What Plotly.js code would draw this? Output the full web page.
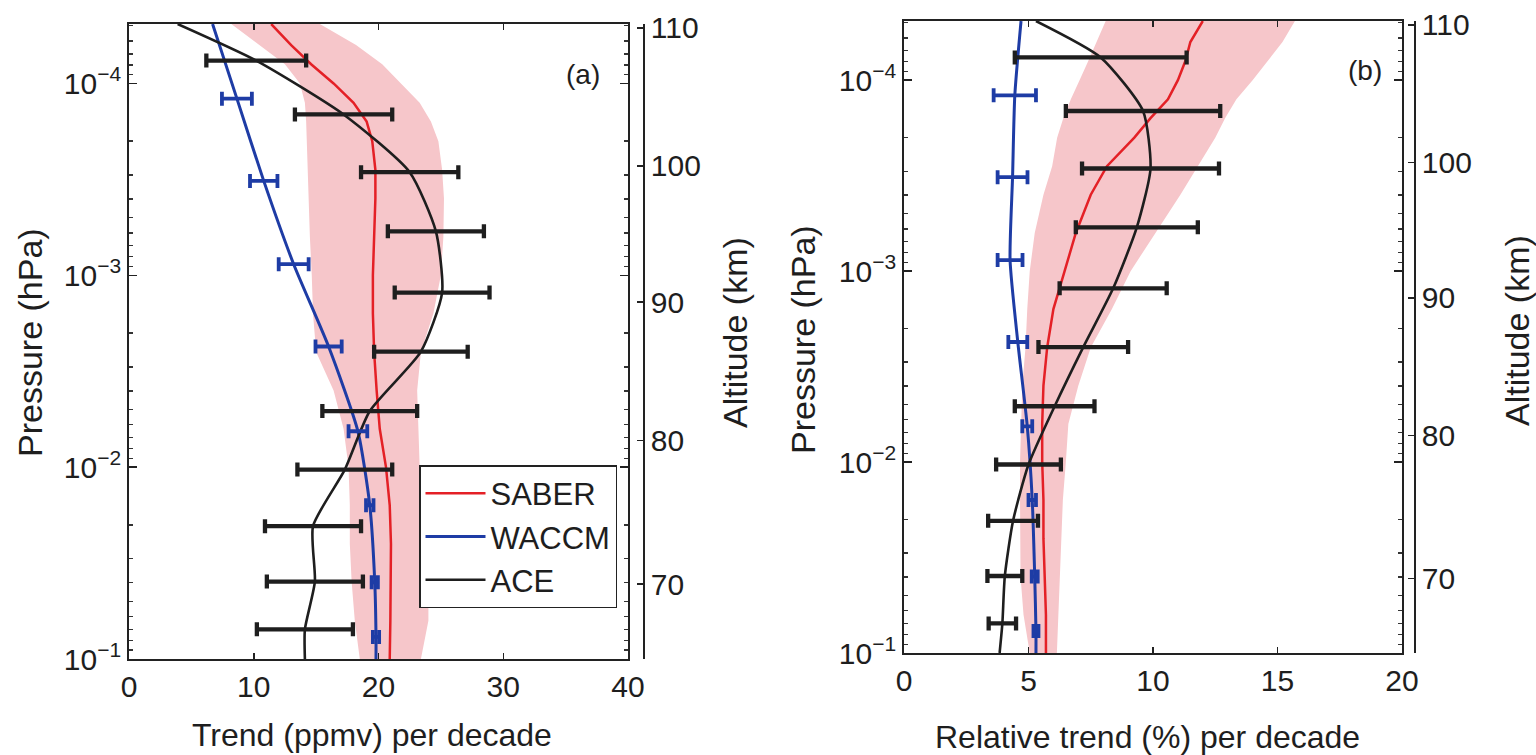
<!DOCTYPE html>
<html><head><meta charset="utf-8">
<script src="https://cdn.plot.ly/plotly-3.0.1.min.js"></script>
<style>html,body{margin:0;padding:0;background:#fff}#chart{width:1536px;height:755px}</style>
</head><body><div id="chart"></div>
<script>
// ---------- data (pressure in hPa) ----------
const pTop = 4.9e-5, pBot = 0.1;
const saberP = [4.9e-5,6.31e-5,7.94e-5,1.0e-4,1.26e-4,1.58e-4,2.0e-4,2.82e-4,3.98e-4,6.31e-4,1.0e-3,1.58e-3,2.51e-3,3.98e-3,6.31e-3,1.0e-2,1.58e-2,2.51e-2,3.98e-2,6.31e-2,0.1];
// panel (a): trend ppmv/decade
const saberA   = [11.4,13.0,14.6,16.4,18.0,19.05,19.5,19.75,19.75,19.65,19.55,19.55,19.65,19.85,20.1,20.6,20.9,21.0,21.0,20.95,20.9];
const saberALo = [8.2,10.5,12.5,13.7,14.1,14.2,14.25,14.35,14.45,14.5,14.65,14.75,15.0,16.4,17.2,17.6,17.7,17.7,17.85,18.1,18.5];
const saberAHi = [15.3,18.2,20.3,21.8,23.3,24.2,24.8,25.1,25.25,25.2,25.0,24.4,23.4,23.1,23.2,23.3,23.4,23.7,24.0,24.0,23.4];
// panel (b): relative trend %/decade
const saberB   = [12.0,11.5,11.3,11.0,10.6,9.9,9.25,8.15,7.5,6.9,6.45,6.0,5.75,5.6,5.55,5.55,5.6,5.6,5.65,5.7,5.7];
const saberBLo = [8.1,7.75,7.4,7.05,6.7,6.4,6.15,5.95,5.6,5.25,5.05,4.95,4.88,4.75,4.7,4.66,4.66,4.66,4.68,4.8,5.05];
const saberBHi = [15.7,15.2,14.6,14.0,13.35,12.9,12.5,11.8,11.1,10.1,9.1,8.35,7.5,7.0,6.6,6.5,6.38,6.3,6.24,6.2,6.14];

const aceP    = [7.6e-5,1.45e-4,2.9e-4,5.9e-4,1.23e-3,2.5e-3,5.1e-3,1.03e-2,2.03e-2,3.95e-2,7.0e-2];
const aceA    = [10.2,17.2,22.5,24.6,25.1,23.4,19.3,17.3,14.75,14.9,14.1];
const aceAErr = [4.0,3.9,3.9,3.85,3.8,3.75,3.8,3.8,3.85,3.85,3.85];
const aceATop = 3.9, aceABot = 14.1;
const aceB    = [7.9,9.6,9.9,9.35,8.4,7.2,6.05,5.0,4.38,4.05,3.95];
const aceBErr = [3.45,3.1,2.75,2.45,2.15,1.8,1.6,1.3,1.0,0.7,0.55];
const aceBTop = 5.3, aceBBot = 3.84;

const waccmP    = [1.2e-4,3.22e-4,8.75e-4,2.35e-3,6.5e-3,1.58e-2,3.98e-2,7.67e-2];
const waccmA    = [8.65,10.8,13.2,16.0,18.35,19.3,19.7,19.8];
const waccmAErr = [1.2,1.1,1.2,1.05,0.75,0.3,0.25,0.25];
const waccmATop = 6.7, waccmABot = 19.8;
const waccmB    = [4.45,4.36,4.26,4.57,4.95,5.15,5.25,5.3];
const waccmBErr = [0.85,0.6,0.5,0.38,0.2,0.15,0.12,0.1];
const waccmBTop = 4.7, waccmBBot = 5.3;

const altKm = [110,100,90,80,70];
const altP  = [5.13e-5,2.69e-4,1.38e-3,7.24e-3,4.07e-2];
const pTickVals = [1e-4,1e-3,1e-2,1e-1];
const pTickText = ['10<sup>−4</sup>','10<sup>−3</sup>','10<sup>−2</sup>','10<sup>−1</sup>'];

// ---------- style ----------
const RED='rgb(228,32,38)', BLUE='rgb(30,60,165)', BLACK='rgb(30,30,30)', PINK='rgb(246,198,202)';
const FONT='Liberation Sans, Arial, Helvetica, sans-serif';
const TXT='#1e1e1e';
const W=1536,H=755;
const minorP=[]; for(let e=-5;e<=-2;e++){for(let m=2;m<=9;m++){minorP.push(m*Math.pow(10,e));}}

function band(p, lo, hi, xa, ya){
  return {x: lo.concat(hi.slice().reverse()), y: p.concat(p.slice().reverse()), xaxis:xa, yaxis:ya,
    type:'scatter', mode:'lines', fill:'toself', fillcolor:PINK, line:{width:0}, showlegend:false, hoverinfo:'skip'};
}
function line(p, x, color, w, xa, ya, name, leg, shape){
  return {x:x, y:p, xaxis:xa, yaxis:ya, type:'scatter', mode:'lines', name:name, showlegend:leg,
    line:{color:color, width:w, shape:shape, smoothing:0.6}};
}
function bars(p, x, err, color, thick, capw, xa, ya){
  return {x:x, y:p, xaxis:xa, yaxis:ya, type:'scatter', mode:'markers', showlegend:false,
    marker:{color:'rgba(0,0,0,0)', size:2},
    error_x:{type:'data', array:err, visible:true, color:color, thickness:thick, width:capw}};
}

const traces = [
  band(saberP, saberALo, saberAHi, 'x', 'y'),
  line(saberP, saberA, RED, 2.5, 'x', 'y', 'SABER', true, 'linear'),
  line([pTop].concat(waccmP,[pBot]), [waccmATop].concat(waccmA,[waccmABot]), BLUE, 3, 'x', 'y', 'WACCM', true, 'spline'),
  line([pTop].concat(aceP,[pBot]), [aceATop].concat(aceA,[aceABot]), BLACK, 2.6, 'x', 'y', 'ACE', true, 'spline'),
  bars(waccmP, waccmA, waccmAErr, BLUE, 3.8, 7, 'x', 'y'),
  bars(aceP, aceA, aceAErr, BLACK, 4.3, 7, 'x', 'y'),
  {x:[], y:[], xaxis:'x', yaxis:'y2', type:'scatter', showlegend:false},

  band(saberP, saberBLo, saberBHi, 'x2', 'y3'),
  line(saberP, saberB, RED, 2.5, 'x2', 'y3', 'SABER', false, 'linear'),
  line([pTop].concat(waccmP,[pBot]), [waccmBTop].concat(waccmB,[waccmBBot]), BLUE, 3, 'x2', 'y3', 'WACCM', false, 'spline'),
  line([pTop].concat(aceP,[pBot]), [aceBTop].concat(aceB,[aceBBot]), BLACK, 2.6, 'x2', 'y3', 'ACE', false, 'spline'),
  bars(waccmP, waccmB, waccmBErr, BLUE, 3.8, 7, 'x2', 'y3'),
  bars(aceP, aceB, aceBErr, BLACK, 4.3, 7, 'x2', 'y3'),
  {x:[], y:[], xaxis:'x2', yaxis:'y4', type:'scatter', showlegend:false}
];

const tickfont={family:FONT, size:30, color:TXT};
function xax(dom, anchor, rng, tv){
  return {domain:dom, anchor:anchor, range:rng, tickvals:tv, ticks:'inside', ticklen:6, tickwidth:1.5, tickcolor:'#222',
    showline:true, linecolor:'#222', linewidth:1.8, mirror:'ticks', showgrid:false, zeroline:false, tickfont:tickfont, fixedrange:true};
}
function pax(dom, anchor){
  return {domain:dom, anchor:anchor, type:'log', range:[-1,-4.31], tickvals:pTickVals, ticktext:pTickText,
    ticks:'inside', ticklen:8, tickwidth:1.5, tickcolor:'#222', showline:true, linecolor:'#222', linewidth:1.8, mirror:'ticks',
    showgrid:false, zeroline:false, tickfont:tickfont, fixedrange:true,
    minor:{tickmode:'array', tickvals:minorP, ticks:'inside', ticklen:4, tickcolor:'#333', showgrid:false}};
}
function altax(over, pos){
  return {overlaying:over, side:'right', anchor:'free', position:pos, type:'log', range:[-1,-4.31],
    tickvals:altP, ticktext:altKm.map(String), ticks:'inside', ticklen:6, tickwidth:1.5, tickcolor:'#222',
    showline:true, linecolor:'#222', linewidth:1.8, showgrid:false, zeroline:false, tickfont:tickfont, fixedrange:true};
}
function ann(text, px, py, angle, size){
  return {text:text, xref:'paper', yref:'paper', x:px/W, y:1-py/H, xanchor:'center', yanchor:'middle',
    showarrow:false, textangle:angle||0, font:{family:FONT, size:size||32, color:TXT}};
}

const layout = {
  width:W, height:H, margin:{l:0,r:0,t:0,b:0}, paper_bgcolor:'#fff', plot_bgcolor:'rgba(0,0,0,0)',
  showlegend:true,
  legend:{x:419/W, y:1-465/H, xanchor:'left', yanchor:'top', bgcolor:'#fff', bordercolor:'#222', borderwidth:1.5,
    font:{family:FONT, size:31, color:TXT}, tracegroupgap:0, itemwidth:60},
  xaxis: xax([129/W, 628/W], 'y', [0,40], [0,10,20,30,40]),
  yaxis: pax([1-659/H, 1-24/H], 'x'),
  yaxis2: altax('y', 643/W),
  xaxis2: xax([904/W, 1402/W], 'y3', [0,20], [0,5,10,15,20]),
  yaxis3: pax([1-653/H, 1-21/H], 'x2'),
  yaxis4: altax('y3', 1414/W),
  annotations:[
    ann('(a)', 583, 75, 0, 28),
    ann('(b)', 1365, 70, 0, 28),
    ann('Pressure (hPa)', 30, 343, -90, 34),
    ann('Pressure (hPa)', 803, 340, -90, 34),
    ann('Altitude (km)', 735, 333, -90, 34),
    ann('Altitude (km)', 1517, 331, -90, 34),
    ann('Trend (ppmv) per decade', 372, 735, 0, 32),
    ann('Relative trend (%) per decade', 1147, 737, 0, 32)
  ]
};
Plotly.newPlot('chart', traces, layout, {staticPlot:true, displayModeBar:false});
</script></body></html>
